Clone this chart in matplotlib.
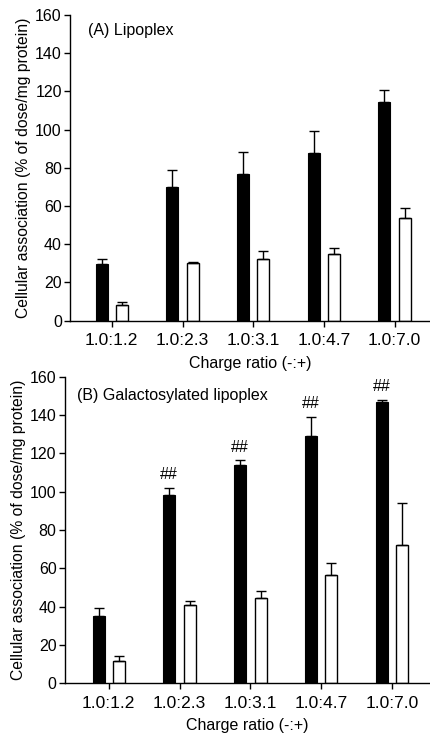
import matplotlib.pyplot as plt
import numpy as np

plt.rcParams["font.family"] = ["Liberation Sans", "DejaVu Sans"]

ratios = ["1.0:1.2", "1.0:2.3", "1.0:3.1", "1.0:4.7", "1.0:7.0"]

# (A) Lipoplex
lipo_black = [29.5, 70, 77, 88, 114.5]
lipo_black_err = [2.8, 9, 11.5, 11.5, 6.5]
lipo_white = [8, 30, 32.5, 35, 54]
lipo_white_err = [2, 0.7, 4, 3, 5]

# (B) Galactosylated lipoplex
gal_black = [35, 98, 114, 129, 147]
gal_black_err = [4, 4, 2.5, 10, 1]
gal_white = [11.5, 41, 44.5, 56.5, 72]
gal_white_err = [2.7, 1.7, 3.5, 6.5, 22]
gal_marks = ["", "##", "##", "##", "##"]

fig = plt.figure(figsize=(4.30, 7.33), dpi=100)


def panel(rect, black, black_err, white, white_err, title, title_xy, xlim, marks=None):
    ax = fig.add_axes(rect)
    x = np.arange(len(ratios))
    w = 0.17
    off = 0.145
    ax.bar(x - off, black, w, color="black", edgecolor="black", linewidth=0.8,
           yerr=[np.zeros(len(black)), black_err],
           error_kw=dict(ecolor="black", elinewidth=1.0, capsize=3.5, capthick=1.0))
    ax.bar(x + off, white, w, color="white", edgecolor="black", linewidth=1.0,
           yerr=[np.zeros(len(white)), white_err],
           error_kw=dict(ecolor="black", elinewidth=1.0, capsize=3.5, capthick=1.0))
    if marks is not None:
        for xi, v, e, m in zip(x, black, black_err, marks):
            if m:
                ax.annotate(m, (xi - off, v + e), xytext=(0, 4), textcoords="offset points",
                            ha="center", va="bottom", fontsize=11.5)
    ax.set_xlim(*xlim)
    ax.set_ylim(0, 160)
    ax.set_yticks(np.arange(0, 161, 20))
    ax.set_xticks(x)
    ax.set_xticklabels(ratios)
    ax.spines[["top", "right"]].set_visible(False)
    for s in ["left", "bottom"]:
        ax.spines[s].set_linewidth(1.0)
    ax.tick_params(axis="y", direction="out", length=4, width=1, pad=2, labelsize=11.5)
    ax.tick_params(axis="x", direction="out", length=4, width=1, pad=5, labelsize=12.5)
    ax.set_xlabel("Charge ratio (-:+)", fontsize=11.5, labelpad=5.5)
    ax.set_ylabel("Cellular association (% of dose/mg protein)", fontsize=11.3, labelpad=3)
    ax.text(title_xy[0], title_xy[1], title, transform=ax.transAxes,
            ha="left", va="center", fontsize=11.5)
    return ax


panel([0.163, 0.5625, 0.837, 0.417], lipo_black, lipo_black_err, lipo_white, lipo_white_err,
      "(A) Lipoplex", (0.05, 0.951), (-0.59, 4.5))
panel([0.151, 0.068, 0.849, 0.418], gal_black, gal_black_err, gal_white, gal_white_err,
      "(B) Galactosylated lipoplex", (0.032, 0.94), (-0.62, 4.54), marks=gal_marks)

fig.savefig("out.png", dpi=100)
